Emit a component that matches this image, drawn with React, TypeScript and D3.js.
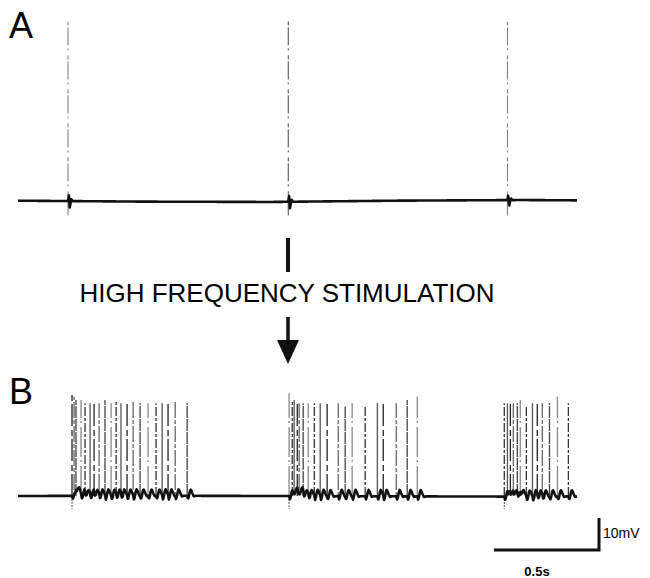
import * as d3 from 'd3';
import { useMemo } from 'react';

const WIDTH = 650;
const HEIGHT = 578;

// recording length in seconds
const duration = 2.66;

// trace A: single evoked spikes (s) and their peak above baseline (mV)
const spikeTimesA = [0.238, 1.286, 2.329];
const spikePeaksA = [56, 57, 56];
const baseTimesA = [0, 0.6, 1.2, 1.8, 2.4, 2.66];
const baseValuesA = [0.1, -0.2, -0.3, 0.1, 0.3, 0.2];

// trace B: bursts after high frequency stimulation
const stimTimesB = [0.257, 1.29, 2.314];
const burst1 = [0.257, 0.267, 0.276, 0.3, 0.319, 0.343, 0.362, 0.386, 0.414, 0.443, 0.467, 0.49, 0.519, 0.548, 0.581, 0.619, 0.657, 0.686, 0.714, 0.748, 0.805];
const burst2 = [1.29, 1.305, 1.314, 1.329, 1.338, 1.357, 1.381, 1.41, 1.438, 1.471, 1.524, 1.557, 1.59, 1.652, 1.71, 1.738, 1.8, 1.852, 1.9];
const burst3 = [2.314, 2.329, 2.343, 2.357, 2.376, 2.39, 2.419, 2.448, 2.471, 2.495, 2.529, 2.567, 2.619];
const peaks1 = [32, 31, 30, 30, 29, 29, 29, 29, 30, 29, 30, 29, 29, 30, 29, 29, 29, 29, 29, 30, 29];
const peaks2 = [32, 30, 30, 29, 29, 29, 29, 29, 29, 29, 29, 28, 29, 28, 29, 29, 29, 30, 31];
const peaks3 = [29, 29, 29, 29, 29, 30, 28, 29, 29, 29, 29, 31, 29];
const baseTimesB = [0, 0.6, 1.2, 1.8, 2.4, 2.66];
const baseValuesB = [0, 0.1, 0, -0.1, -0.2, -0.1];

// waveforms following a spike, 4 ms per sample (mV)
const afterPotential = [0, -1.0, -0.2, 1.2, 2.0, 1.6, 0.9, 0.3, -0.2, -0.1, 0];
const artifactShape = [0, 1.8, -2.0, -0.6, 0.6, 0.2, 0];
const stepMs = 4;

// calibration
const barSeconds = 0.5;
const barMillivolts = 10;

const spikeDash = ['22 3 6 4', '', '9 2 3 2', '30 4 2 3', '12 1', '4 2 16 2'];
const spikeShade = ['#222', '#666', '#444', '#888', '#333', '#555'];

function buildTrace(baseT: number[], baseV: number[], events: number[], shape: number[]) {
  const base = d3.scaleLinear().domain(baseT).range(baseV);
  const dt = 0.002;
  const pts: [number, number][] = [];
  for (let t = 0; t <= duration + 1e-9; t += dt) {
    let v = base(t);
    for (const s of events) {
      const k = (t - s) / (stepMs / 1000);
      if (k >= 0 && k < shape.length - 1) {
        const i = Math.floor(k);
        v += shape[i] + (shape[i + 1] - shape[i]) * (k - i);
      }
    }
    pts.push([t, v]);
  }
  return pts;
}

export default function App() {
  const x = d3.scaleLinear().domain([0, duration]).range([18, 577]);
  const yA = d3.scaleLinear().domain([0, 10]).range([201, 169]);
  const yB = d3.scaleLinear().domain([0, 10]).range([496, 464]);

  const burstTimes = [...burst1, ...burst2, ...burst3];
  const burstPeaks = [...peaks1, ...peaks2, ...peaks3];

  const traceA = useMemo(() => buildTrace(baseTimesA, baseValuesA, spikeTimesA, artifactShape), []);
  const traceB = useMemo(() => buildTrace(baseTimesB, baseValuesB, burstTimes, afterPotential), []);

  const lineA = d3.line<[number, number]>().x((d) => x(d[0])).y((d) => yA(d[1]));
  const lineB = d3.line<[number, number]>().x((d) => x(d[0])).y((d) => yB(d[1]));

  const font = 'Arial, "Liberation Sans", Helvetica, sans-serif';
  const barLen = x(barSeconds) - x(0);
  const barHeight = yB(0) - yB(barMillivolts);

  return (
    <svg
      width={WIDTH}
      height={HEIGHT}
      style={{ position: 'absolute', left: 0, top: 0, background: '#fff' }}
      fontFamily={font}
    >
      <text x={9} y={38} fontSize={36}>A</text>
      <text x={9} y={404} fontSize={36}>B</text>

      {/* trace A */}
      {spikeTimesA.map((t, i) => (
        <line
          key={`a${i}`}
          x1={x(t)}
          x2={x(t)}
          y1={yA(-4.5)}
          y2={yA(spikePeaksA[i])}
          stroke={i === 1 ? '#444' : '#777'}
          strokeWidth={1}
          strokeDasharray="18 2 4 5 2 3"
        />
      ))}
      <path d={lineA(traceA) ?? ''} fill="none" stroke="#111" strokeWidth={2.6} strokeLinejoin="round" />

      {/* stimulation marker */}
      <rect x={286} y={238} width={4} height={34} fill="#111" />
      <text x={287} y={302} fontSize={26} textAnchor="middle">HIGH FREQUENCY STIMULATION</text>
      <line x1={288} x2={288} y1={317} y2={344} stroke="#111" strokeWidth={3.5} />
      <path d="M277,340 L299,340 L288,364 Z" fill="#111" />

      {/* trace B */}
      {stimTimesB.map((t, i) => (
        <line key={`s${i}`} x1={x(t)} x2={x(t)} y1={yB(0)} y2={yB(-4)} stroke="#555" strokeWidth={1} strokeDasharray="2 1" />
      ))}
      {burstTimes.map((t, i) => (
        <line
          key={`b${i}`}
          x1={x(t)}
          x2={x(t)}
          y1={yB(0)}
          y2={yB(burstPeaks[i])}
          stroke={spikeShade[i % spikeShade.length]}
          strokeWidth={1.3}
          strokeDasharray={spikeDash[(i * 5) % spikeDash.length]}
        />
      ))}
      <path d={lineB(traceB) ?? ''} fill="none" stroke="#111" strokeWidth={2.6} strokeLinejoin="round" />

      {/* scale bar */}
      <path
        d={`M${599 - barLen},550 H599 V${550 - barHeight}`}
        fill="none"
        stroke="#111"
        strokeWidth={3}
      />
      <text x={603} y={538} fontSize={14}>10mV</text>
      <text x={537} y={576} fontSize={13} fontWeight="bold" textAnchor="middle">0.5s</text>
    </svg>
  );
}
